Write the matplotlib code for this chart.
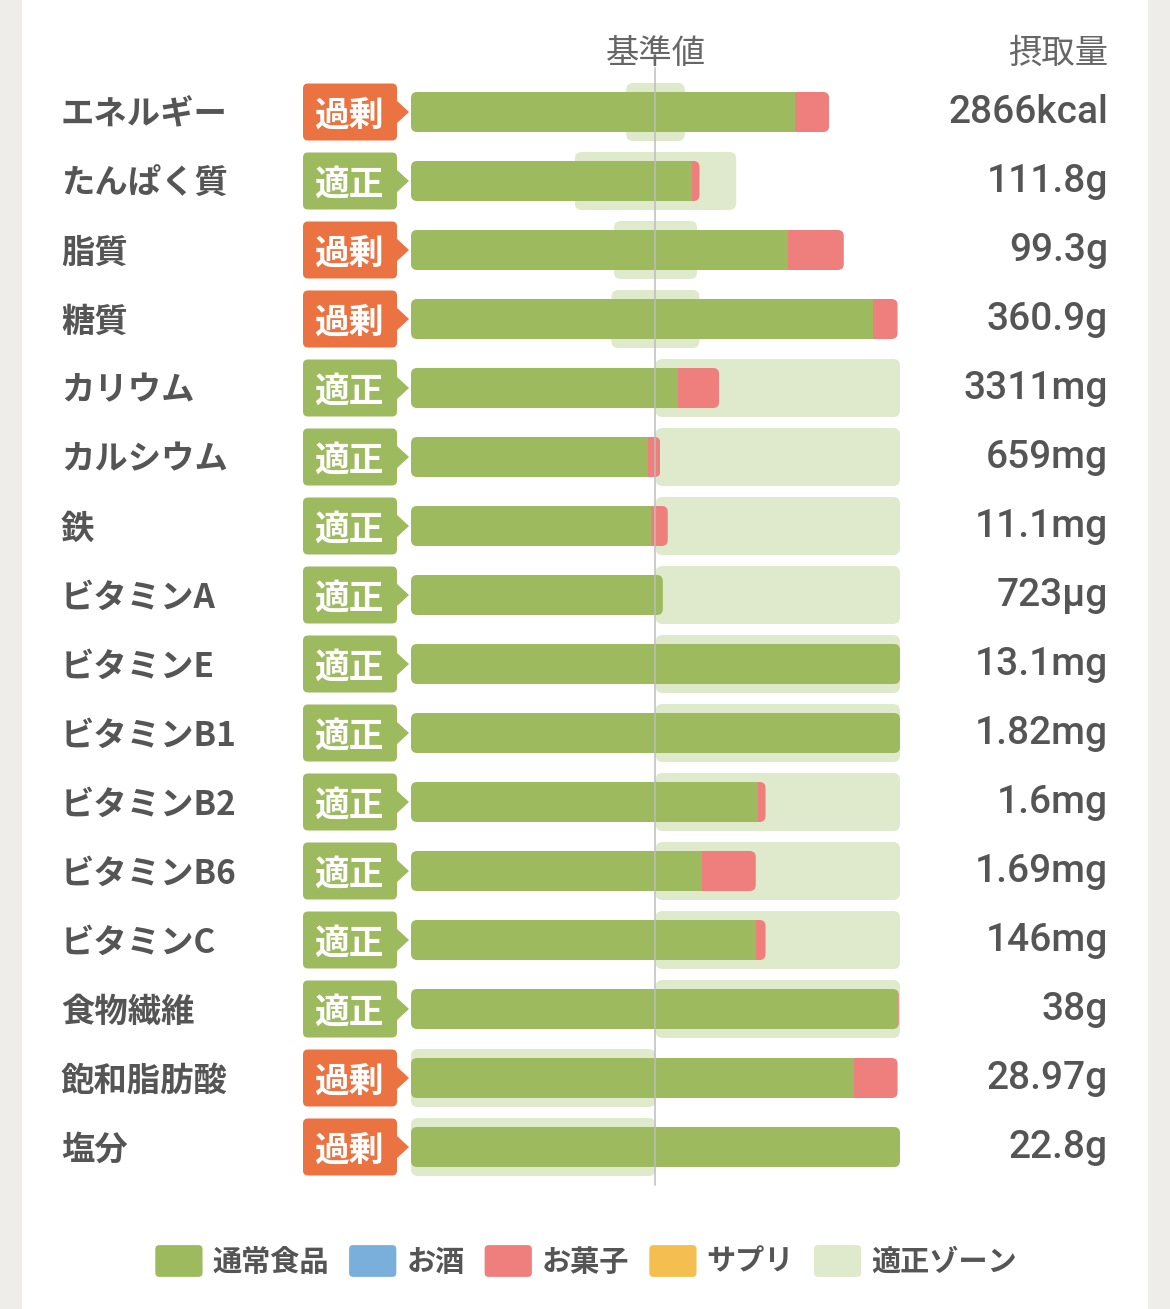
import matplotlib
matplotlib.use("Agg")
import matplotlib.pyplot as plt
from matplotlib.patches import FancyBboxPatch, Rectangle, Polygon, Patch
from matplotlib.transforms import blended_transform_factory
from matplotlib.legend_handler import HandlerPatch

plt.rcParams['font.family'] = ['Noto Sans CJK JP', 'DejaVu Sans']

# data (percent of the reference value)
nutrients = ['エネルギー', 'たんぱく質', '脂質', '糖質', 'カリウム', 'カルシウム', '鉄',
             'ビタミンA', 'ビタミンE', 'ビタミンB1', 'ビタミンB2', 'ビタミンB6',
             'ビタミンC', '食物繊維', '飽和脂肪酸', '塩分']
status = ['過剰', '適正', '過剰', '過剰', '適正', '適正', '適正', '適正', '適正', '適正',
          '適正', '適正', '適正', '適正', '過剰', '過剰']
intake = ['2866kcal', '111.8g', '99.3g', '360.9g', '3311mg', '659mg', '11.1mg', '723µg',
          '13.1mg', '1.82mg', '1.6mg', '1.69mg', '146mg', '38g', '28.97g', '22.8g']
food_pct = [157, 115, 154, 189, 109, 97, 98, 103, 200, 200, 142, 119, 141, 199, 181, 200]
sweets_pct = [14, 3, 23, 10, 17, 5, 7, 0, 0, 0, 3, 22, 4, 0.5, 18, 0]
zone_low = [88, 67, 83, 82, 100, 100, 100, 100, 100, 100, 100, 100, 100, 100, 0, 0]
zone_high = [112, 133, 117, 118, 200, 200, 200, 200, 200, 200, 200, 200, 200, 200, 100, 100]
legend_labels = ['通常食品', 'お酒', 'お菓子', 'サプリ', '適正ゾーン']

GREEN = '#9dbb5e'
RED = '#ee7f7c'
BLUE = '#7aafdc'
YELLOW = '#f4bf50'
ZONE = '#dfe9cc'
ORANGE = '#ea7341'
TEXT = '#555555'
legend_colors = [GREEN, BLUE, RED, YELLOW, ZONE]

W, H = 1170, 1309
XMAX = 200
fig = plt.figure(figsize=(W / 100, H / 100), dpi=100, facecolor='#eeede9')
fig.patches.append(Rectangle((22 / W, 0), (1148 - 22) / W, 1, transform=fig.transFigure,
                             facecolor='white', edgecolor='none', zorder=-5))

# bar area: x 411..900 px, rows centered at 112 + 69*i
ax = fig.add_axes([411 / W, 1 - 1181.5 / H, 489 / W, 1104 / H])
ax.set_xlim(0, XMAX)
ax.set_ylim(len(nutrients) - 0.5, -0.5)
ax.axis('off')

pxx = 489 / XMAX          # px per x unit
pxy = 1104 / len(nutrients)  # px per row
asp = pxx / pxy
dy = 3 / pxy              # text nudge down


def px2x(px):
    return (px - 411) / pxx


def rbox(x0, x1, yc, h, r_px, **kw):
    return FancyBboxPatch((x0, yc - h / 2), x1 - x0, h,
                          boxstyle=f"round,pad=0,rounding_size={r_px / pxx}",
                          mutation_aspect=asp, **kw)


bar_h = 40 / pxy
zone_h = 58 / pxy
badge_h = 57 / pxy
left_tr = blended_transform_factory(fig.transFigure, ax.transData)

for i, name in enumerate(nutrients):
    # appropriate zone
    ax.add_patch(rbox(zone_low[i], zone_high[i], i, zone_h, 7, facecolor=ZONE,
                      edgecolor='none', zorder=1))
    # stacked bar clipped to a rounded outline
    food = min(food_pct[i], XMAX)
    total = min(food_pct[i] + sweets_pct[i], XMAX)
    clip = rbox(0, total, i, bar_h, 6, facecolor='none', edgecolor='none')
    clip.set_transform(ax.transData)
    segs = ax.barh([i, i], [food, total - food], left=[0, food], height=bar_h,
                   color=[GREEN, RED], zorder=2)
    for r in segs:
        r.set_clip_path(clip)

    # status badge
    bc = ORANGE if status[i] == '過剰' else GREEN
    ax.add_patch(rbox(px2x(303), px2x(397), i, badge_h, 5, facecolor=bc,
                      edgecolor='none', clip_on=False, zorder=2))
    ax.add_patch(Polygon([(px2x(396), i - 12 / pxy), (px2x(409), i), (px2x(396), i + 12 / pxy)],
                         closed=True, facecolor=bc, edgecolor='none', clip_on=False, zorder=2))
    ax.text(px2x(349), i + dy, status[i], ha='center', va='center', color='white',
            fontsize=25, fontweight='bold', clip_on=False)

    ax.text(61 / W, i + dy, name, transform=left_tr, ha='left', va='center', color=TEXT,
            fontsize=24, fontweight='bold')
    ax.text(1108 / W, i + dy * 0.3, intake[i], transform=left_tr, ha='right', va='center',
            color=TEXT, fontsize=28, fontweight='medium', family=['Roboto', 'DejaVu Sans'])

# reference line
ax.plot([100, 100], [-0.64, len(nutrients) - 0.45], color='#bdbdbd', lw=1.1, zorder=3,
        clip_on=False)

hy = (50 - 112) / pxy + dy
ax.text(100, hy, '基準値', ha='center', va='center', color='#666666', fontsize=24, clip_on=False)
ax.text(1108 / W, hy, '摂取量', transform=left_tr, ha='right', va='center', color='#666666',
        fontsize=24)


def rounded_handle(legend, orig_handle, xdescent, ydescent, width, height, fontsize):
    return FancyBboxPatch((-xdescent, -ydescent), width, height,
                          boxstyle="round,pad=0,rounding_size=3")


handles = [Patch(facecolor=c, edgecolor='none', label=l) for c, l in zip(legend_colors, legend_labels)]
fig.legend(handles=handles, loc='center', bbox_to_anchor=(0.501, 1 - 1261 / H), ncol=5,
           frameon=False, prop={'size': 21, 'weight': 'bold'}, labelcolor=TEXT,
           handlelength=1.62, handleheight=1.3, handletextpad=0.35, columnspacing=0.68,
           handler_map={Patch: HandlerPatch(patch_func=rounded_handle)})

fig.savefig('out.png', dpi=100, facecolor=fig.get_facecolor())
